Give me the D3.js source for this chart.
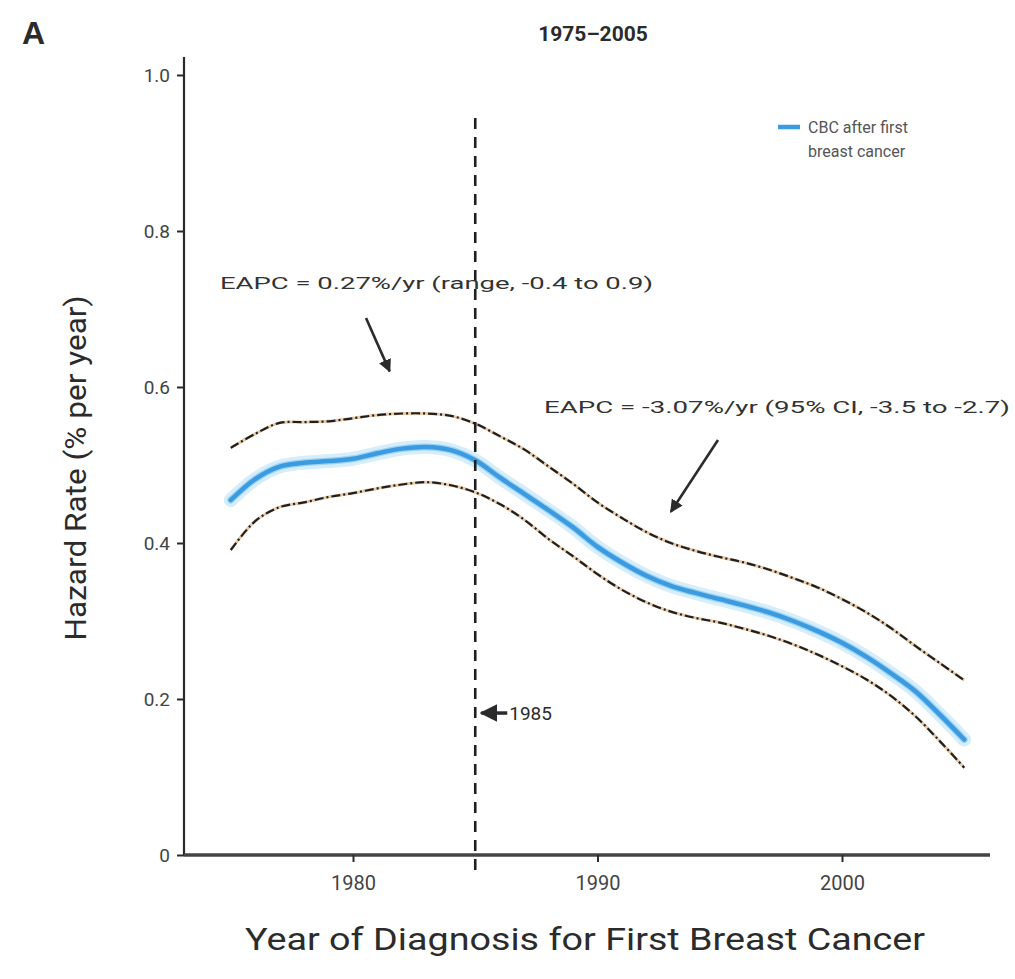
<!DOCTYPE html>
<html>
<head>
<meta charset="utf-8">
<script src="https://cdn.jsdelivr.net/npm/d3@7"></script>
<style>
  html, body { margin: 0; padding: 0; background: #fff; }
  svg { display: block; }
  text { font-family: "Liberation Sans Narrow", "Roboto", "Liberation Sans", sans-serif; }
</style>
</head>
<body>
<svg id="chart" width="1015" height="979"></svg>
<script>
const years = [1975,1976,1977,1978,1979,1980,1981,1982,1983,1984,1985,1986,1987,1988,1989,1990,
               1991,1992,1993,1994,1995,1996,1997,1998,1999,2000,2001,2002,2003,2004,2005];
const hazardMean = [0.455,0.482,0.498,0.503,0.505,0.508,0.515,0.521,0.523,0.519,0.506,0.484,0.463,0.442,0.420,0.395,
                    0.375,0.358,0.345,0.336,0.328,0.320,0.311,0.300,0.287,0.272,0.254,0.233,0.210,0.180,0.148];
const hazardUpper = [0.522,0.540,0.554,0.555,0.556,0.560,0.564,0.566,0.566,0.563,0.553,0.537,0.520,0.498,0.476,0.452,
                     0.432,0.414,0.400,0.390,0.382,0.375,0.366,0.355,0.343,0.328,0.311,0.291,0.268,0.246,0.224];
const hazardLower = [0.391,0.428,0.446,0.452,0.459,0.464,0.470,0.475,0.478,0.474,0.465,0.450,0.430,0.405,0.383,0.360,
                     0.340,0.324,0.312,0.304,0.298,0.290,0.281,0.270,0.257,0.242,0.225,0.204,0.178,0.146,0.112];
const xTicks = [1980, 1990, 2000];
const yTicks = [0, 0.2, 0.4, 0.6, 0.8, 1.0];
const yTickLabels = ["0", "0.2", "0.4", "0.6", "0.8", "1.0"];
const splitYear = 1985;
const panelLabel = "A";
const title = "1975\u20132005";
const xTitle = "Year of Diagnosis for First Breast Cancer";
const yTitle = "Hazard Rate (% per year)";
const legendLines = ["CBC after first", "breast cancer"];
const note1 = "EAPC = 0.27%/yr (range, -0.4 to 0.9)";
const note2 = "EAPC = -3.07%/yr (95% CI, -3.5 to -2.7)";

const svg = d3.select("#chart");
const x = d3.scaleLinear().domain([1980, 2000]).range([353, 842]);
const y = d3.scaleLinear().domain([0, 1]).range([855, 75]);
const axisX0 = 184, axisXEnd = 990;

const ink = "#2b2b2b";
const blue = "#3b9be0";

svg.append("defs").append("marker")
  .attr("id", "arrow").attr("viewBox", "0 0 10 10").attr("refX", 9).attr("refY", 5)
  .attr("markerWidth", 5).attr("markerHeight", 5).attr("orient", "auto-start-reverse")
  .attr("markerUnits", "strokeWidth")
  .append("path").attr("d", "M0,0 L10,5 L0,10 z").attr("fill", ink);

// panel label + title
svg.append("text").attr("x", 22).attr("y", 44).attr("font-size", 32).attr("font-weight", "bold")
  .attr("fill", ink).style("font-family", "Liberation Sans, Arial, sans-serif").text(panelLabel);
svg.append("text").attr("x", 593).attr("y", 41).attr("text-anchor", "middle").attr("font-size", 21)
  .attr("font-weight", "bold").attr("fill", ink).text(title);

// axes
svg.append("line").attr("x1", axisX0).attr("x2", axisX0).attr("y1", 57).attr("y2", y(0))
  .attr("stroke", ink).attr("stroke-width", 2.2);
svg.append("line").attr("x1", axisX0).attr("x2", axisXEnd).attr("y1", y(0)).attr("y2", y(0))
  .attr("stroke", "#444").attr("stroke-width", 3.5);

const yAxis = d3.axisLeft(y).tickValues(yTicks).tickSize(7)
  .tickFormat((d, i) => yTickLabels[i]);
const gy = svg.append("g").attr("transform", `translate(${axisX0},0)`).call(yAxis);
gy.select(".domain").remove();
gy.selectAll(".tick line").attr("stroke", ink).attr("stroke-width", 2);
gy.selectAll(".tick text").attr("font-size", 19).attr("fill", "#444").attr("dx", -4)
  .style("font-family", "Liberation Sans Narrow, Roboto, sans-serif");

const xAxis = d3.axisBottom(x).tickValues(xTicks).tickSize(7).tickFormat(d3.format("d"));
const gx = svg.append("g").attr("transform", `translate(0,${y(0)})`).call(xAxis);
gx.select(".domain").remove();
gx.selectAll(".tick line").attr("stroke", ink).attr("stroke-width", 2);
gx.selectAll(".tick text").attr("font-size", 20).attr("fill", "#444").attr("dy", "1.25em")
  .style("font-family", "Liberation Sans Narrow, Roboto, sans-serif");

// axis titles
svg.append("text").attr("x", 585).attr("y", 950).attr("text-anchor", "middle")
  .attr("font-size", 32).attr("fill", ink).attr("textLength", 680).attr("lengthAdjust", "spacingAndGlyphs")
  .text(xTitle);
svg.append("text").attr("transform", `translate(86,468) rotate(-90)`).attr("text-anchor", "middle")
  .attr("font-size", 30).attr("fill", ink).attr("textLength", 345).attr("lengthAdjust", "spacingAndGlyphs")
  .text(yTitle);

// data
const pts = (vals) => years.map((yr, i) => [yr, vals[i]]);
const line = d3.line().x(d => x(d[0])).y(d => y(d[1])).curve(d3.curveCatmullRom.alpha(0.5));

// soft halo around blue line
svg.append("path").attr("d", line(pts(hazardMean))).attr("fill", "none")
  .attr("stroke", "#d6eefb").attr("stroke-width", 14).attr("stroke-linecap", "round");
svg.append("path").attr("d", line(pts(hazardMean))).attr("fill", "none")
  .attr("stroke", "#9fd3f3").attr("stroke-width", 7).attr("stroke-linecap", "round");
svg.append("path").attr("d", line(pts(hazardMean))).attr("fill", "none")
  .attr("stroke", blue).attr("stroke-width", 4.5).attr("stroke-linecap", "round");

[hazardUpper, hazardLower].forEach(vals => {
  svg.append("path").attr("d", line(pts(vals))).attr("fill", "none")
    .attr("stroke", "#e8c9a8").attr("stroke-width", 3);
  svg.append("path").attr("d", line(pts(vals))).attr("fill", "none")
    .attr("stroke", "#1f1f1f").attr("stroke-width", 2.2).attr("stroke-dasharray", "9,3,2,3");
});

// vertical 1985 line
svg.append("line").attr("x1", x(splitYear)).attr("x2", x(splitYear)).attr("y1", 118).attr("y2", y(0) + 15)
  .attr("stroke", "#1f1f1f").attr("stroke-width", 2.6).attr("stroke-dasharray", "11,8");

// 1985 arrow
svg.append("line").attr("x1", x(splitYear) + 32).attr("x2", x(splitYear) + 6)
  .attr("y1", y(0.182)).attr("y2", y(0.182))
  .attr("stroke", ink).attr("stroke-width", 3.5).attr("marker-end", "url(#arrow)");
svg.append("text").attr("x", x(splitYear) + 34).attr("y", y(0.182) + 7).attr("font-size", 19)
  .attr("fill", ink).text(String(splitYear));

// annotation 1
svg.append("text").attr("x", 220).attr("y", 289).attr("font-size", 16).attr("fill", "#333")
  .attr("textLength", 433).attr("lengthAdjust", "spacingAndGlyphs").text(note1);
svg.append("line").attr("x1", 366).attr("y1", 318).attr("x2", x(1981.5)).attr("y2", y(0.62))
  .attr("stroke", ink).attr("stroke-width", 2.6).attr("marker-end", "url(#arrow)");

// annotation 2
svg.append("text").attr("x", 544).attr("y", 413).attr("font-size", 16).attr("fill", "#333")
  .attr("textLength", 466).attr("lengthAdjust", "spacingAndGlyphs").text(note2);
svg.append("line").attr("x1", 718).attr("y1", 440).attr("x2", x(1993)).attr("y2", y(0.44))
  .attr("stroke", ink).attr("stroke-width", 2.6).attr("marker-end", "url(#arrow)");

// legend
svg.append("line").attr("x1", 778).attr("x2", 800).attr("y1", 127).attr("y2", 127)
  .attr("stroke", blue).attr("stroke-width", 4.5);
legendLines.forEach((t, i) => {
  svg.append("text").attr("x", 808).attr("y", 133 + i * 24).attr("font-size", 16)
    .attr("fill", "#555").text(t);
});
</script>
</body>
</html>
